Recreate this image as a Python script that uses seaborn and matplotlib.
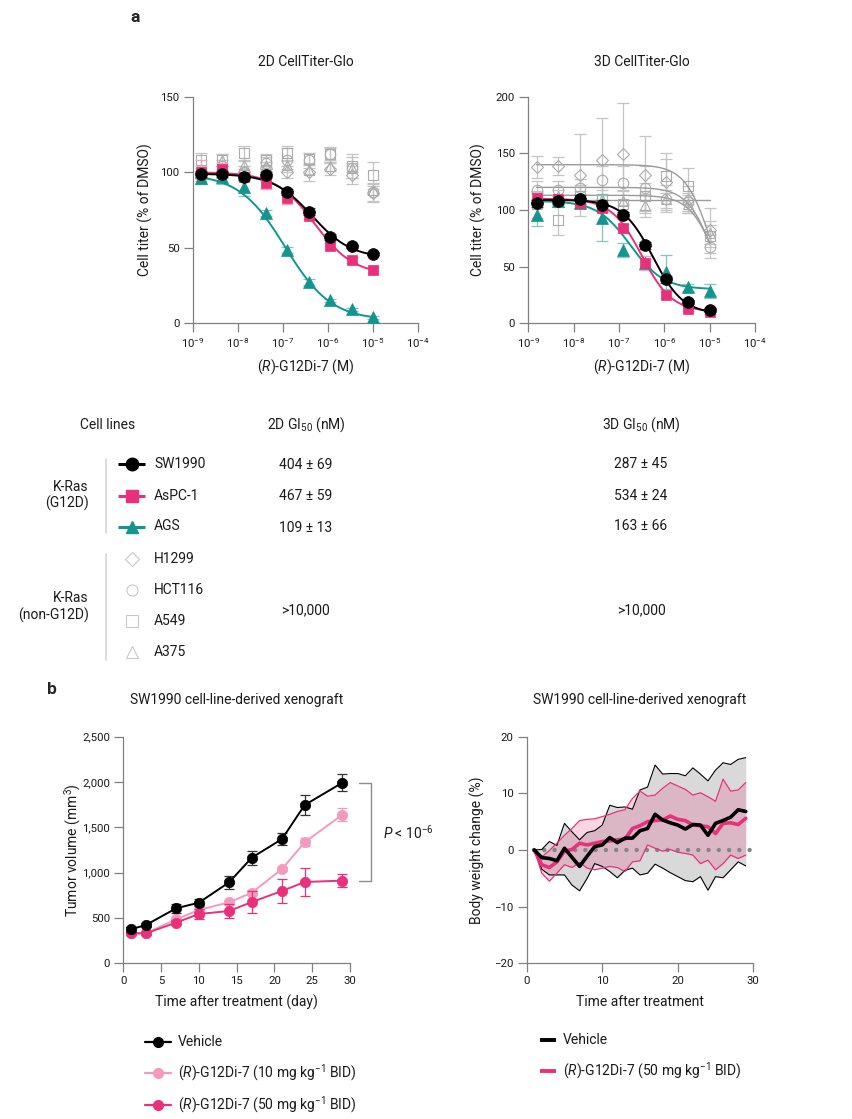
import numpy as np
import pandas as pd
import matplotlib
matplotlib.use("Agg")
import matplotlib.pyplot as plt
from matplotlib.ticker import NullLocator, FuncFormatter
import seaborn as sns

sns.set_style("ticks")
plt.rcParams['font.family'] = ['Roboto', 'DejaVu Sans']
plt.rcParams['mathtext.fontset'] = 'custom'
plt.rcParams['mathtext.rm'] = 'Roboto'
plt.rcParams['mathtext.it'] = 'Roboto:italic'
plt.rcParams['mathtext.bf'] = 'Roboto:bold'
plt.rcParams['axes.unicode_minus'] = True

# ---------------- data: panel a ----------------
conc = [1.52e-9, 4.57e-9, 1.37e-8, 4.12e-8, 1.23e-7, 3.70e-7, 1.11e-6, 3.33e-6, 1.0e-5]

cell_lines = ['SW1990', 'AsPC-1', 'AGS', 'H1299', 'HCT116', 'A549', 'A375']
g12d_lines = ['SW1990', 'AsPC-1', 'AGS']
grey_lines = ['H1299', 'HCT116', 'A549', 'A375']

# 2D CellTiter-Glo (% of DMSO)
ctg2d_sw1990 = [99, 99, 97, 98, 87, 74, 57, 51, 46]
ctg2d_aspc1 = [100, 102, 97, 93, 83, 71, 51, 42, 35]
ctg2d_ags = [96, 97, 90, 73, 48.5, 27.6, 15.4, 9.3, 4]
ctg2d_h1299 = [96, 100, 100, 103, 100, 100, 102, 98, 86]
ctg2d_hct116 = [100, 104, 100, 106, 108, 108, 112, 103, 87]
ctg2d_a549 = [108, 108, 112.5, 108, 112.5, 109, 112, 104, 98]
ctg2d_a375 = [97, 108, 105, 104, 105, 101.5, 104, 103, 88]
err2d_sw1990 = [2, 2, 2, 2, 2, 2, 2, 1, 1]
err2d_aspc1 = [8, 4, 3, 4, 4, 2, 2, 2, 2]
err2d_ags = [4, 5, 6, 2, 2, 2, 1, 1, 1]
err2d_h1299 = [4, 4, 4, 4, 4, 6, 4, 6, 6]
err2d_hct116 = [4, 4, 4, 4, 8, 5, 5, 7, 6]
err2d_a549 = [5, 4, 5, 4, 5, 4, 4, 8, 9]
err2d_a375 = [3, 4, 3, 3, 3, 3, 3, 3, 3]

# 3D CellTiter-Glo (% of DMSO)
ctg3d_sw1990 = [106, 108, 109.4, 104.4, 95.6, 69, 39, 19, 11.7]
ctg3d_aspc1 = [111, 109.4, 106.5, 101.5, 83.8, 53, 25, 13, 10.3]
ctg3d_ags = [96, 108, 106, 93, 64.7, 53, 45.5, 31.8, 28.5]
ctg3d_h1299 = [138, 138.8, 131, 144, 149.4, 131, 125, 109, 82]
ctg3d_hct116 = [117.6, 117.6, 119, 126.5, 123.5, 119, 110, 107, 67.6]
ctg3d_a549 = [105, 91, 112, 110, 105, 112, 130, 121, 77]
ctg3d_a375 = [110, 112, 111, 110, 108, 104, 110, 105, 80]
err3d_sw1990 = [3, 3, 4, 4, 3, 3, 3, 2, 2]
err3d_aspc1 = [4, 3, 3, 3, 4, 6, 3, 2, 2]
err3d_ags = [10, 5, 4, 20, 6, 6, 15, 3, 6]
err3d_h1299 = [10, 8, 36, 37, 45, 34, 25, 12, 20]
err3d_hct116 = [8, 8, 8, 12, 15, 20, 12, 8, 10]
err3d_a549 = [12, 13, 10, 10, 12, 12, 15, 16, 10]
err3d_a375 = [6, 6, 6, 8, 10, 10, 8, 8, 10]

# fitted 4-parameter logistic curves: top, bottom, logGI50, hill
fit2d = {'SW1990': (99, 43, -6.35, 1.0), 'AsPC-1': (100, 32, -6.3, 1.0),
         'AGS': (99, 2, -6.95, 0.85)}
fit3d = {'SW1990': (109, 8, -6.25, 1.3), 'AsPC-1': (110, 10, -6.5, 1.3),
         'AGS': (108, 30, -6.75, 1.2), 'H1299': (140, 0, -4.95, 1.5),
         'HCT116': (120, 0, -4.9, 1.5), 'A549': (109, 109, -5.0, 1.0),
         'A375': (113, 0, -4.85, 1.5)}

gi50_2d = ['404 ± 69', '467 ± 59', '109 ± 13']
gi50_3d = ['287 ± 45', '534 ± 24', '163 ± 66']
gi50_other = '>10,000'

# ---------------- data: panel b ----------------
tumor_days = [1, 3, 7, 10, 14, 17, 21, 24, 29]
tumor_vehicle = [375, 423, 607, 669, 893, 1165, 1371, 1746, 1993]
tumor_vehicle_err = [30, 25, 50, 35, 75, 75, 70, 110, 90]
tumor_10mg = [331, 331, 485, 588, 673, 779, 1040, 1335, 1640]
tumor_10mg_err = [20, 20, 20, 25, 25, 30, 25, 45, 75]
tumor_50mg = [331, 331, 449, 544, 577, 676, 798, 897, 912]
tumor_50mg_err = [20, 15, 25, 55, 75, 120, 135, 155, 75]

bw_days = list(range(1, 30))
bw_vehicle = [0, -1.35, -1.5, -1.9, 0.3, -1.3, -2.9, -1.1, 0.6, 0.9, 2.2, 1.3, 2.1, 2.1, 3.4,
              3.8, 6.3, 5.3, 4.8, 4.4, 3.7, 4.5, 4.4, 2.6, 4.7, 5.2, 5.8, 7.1, 6.8]
bw_vehicle_hi = [0, 0.1, 1.5, 0.8, 4.7, 3.2, 1.8, 3.1, 3.4, 4.4, 7.9, 7.5, 7.6, 7.2, 10.6,
                 11.1, 15, 13.4, 13.5, 13.5, 13.1, 14.5, 13.4, 12.2, 14.1, 15.4, 15.1, 16, 16.3]
bw_vehicle_lo = [0, -3.4, -4.4, -4.4, -4.4, -6.2, -7.2, -5, -2.4, -2.9, -3.8, -4.9, -3.6, -3.2, -4.4,
                 -4.1, -2.5, -3.2, -4, -4.7, -5.4, -5.6, -4.7, -7.1, -4.7, -4.9, -3.5, -2.1, -2.8]
bw_50mg = [0, -2.6, -3.1, -2.1, -0.2, 0.1, 1.2, 0.9, 1.2, 1.5, 1.6, 1.8, 1.9, 3.8, 4.3,
           5, 5.2, 5.3, 6, 5.4, 5.2, 4.4, 4.3, 4.1, 2.9, 4.7, 4.8, 4.5, 5.6]
bw_50mg_hi = [0, -1.2, -0.1, 1.2, 2.6, 3.8, 5.2, 5.4, 5.5, 5.9, 6.3, 6.8, 7.1, 9.1, 10.4,
              9.5, 9.7, 10.9, 11.9, 11.3, 10.7, 9.7, 10.1, 9.4, 8.6, 12.5, 10.4, 10.6, 11.9]
bw_50mg_lo = [0, -4.1, -5.5, -4.1, -2.6, -3.1, -2.2, -3.2, -3.5, -3.2, -2.9, -3.1, -3.8, -2.1, -1.9,
              0.9, 0.3, -0.2, 0.1, -0.4, -0.6, -0.9, -2.4, -1.8, -3.5, -2.4, -0.9, -1.5, -0.9]

# ---------------- styles ----------------
BLACK = '#000000'
PINK = '#e8317a'
LPINK = '#f39abd'
TEAL = '#13958f'
GREY = '#ababab'
SPINE = '#808080'
TXT = '#1a1a1a'

style = {
    'SW1990': dict(color=BLACK, marker='o', ms=8.5, ecol='#555555'),
    'AsPC-1': dict(color=PINK, marker='s', ms=7.5, ecol='#f5a3c3'),
    'AGS': dict(color=TEAL, marker='^', ms=8, ecol='#7fc6c2'),
    'H1299': dict(color=GREY, marker='D', ms=6.2),
    'HCT116': dict(color=GREY, marker='o', ms=7.5),
    'A549': dict(color=GREY, marker='s', ms=7.5),
    'A375': dict(color=GREY, marker='^', ms=7.5),
}

W, H = 852, 1119
fig = plt.figure(figsize=(W / 100, H / 100), dpi=100)
fs = 10


def rect(x0, y0, x1, y1):
    return [x0 / W, 1 - y1 / H, (x1 - x0) / W, (y1 - y0) / H]


def style_axes(ax):
    for s in ['top', 'right']:
        ax.spines[s].set_visible(False)
    for s in ['left', 'bottom']:
        ax.spines[s].set_color(SPINE)
        ax.spines[s].set_linewidth(0.9)
    ax.tick_params(direction='out', length=6.5, width=0.9, color=SPINE,
                   labelsize=8.2, labelcolor=TXT, pad=3)


def logistic(x, top, bottom, logc, hill):
    return bottom + (top - bottom) / (1 + 10 ** ((np.log10(x) - logc) * hill))


def dose_panel(ax, vals, errs, fits, ymax):
    xs = np.logspace(np.log10(conc[0]), np.log10(conc[-1]), 200)
    order = ['A549', 'HCT116', 'H1299', 'A375', 'AGS', 'AsPC-1', 'SW1990']
    for name in order:
        st = style[name]
        grey = name in grey_lines
        if name in fits:
            sns.lineplot(x=xs, y=logistic(xs, *fits[name]), ax=ax,
                         color=('#9a9a9a' if grey else st['color']),
                         lw=(1.0 if grey else 1.4), zorder=2 if grey else 4)
        ax.errorbar(conc, vals[name], yerr=errs[name], fmt='none',
                    ecolor=('#c4c4c4' if grey else st['ecol']),
                    elinewidth=0.9, capsize=4, capthick=0.9, zorder=1 if grey else 3)
        if grey:
            ax.plot(conc, vals[name], ls='none', marker=st['marker'], ms=st['ms'],
                    mfc='none', mec=st['color'], mew=0.8, zorder=2, clip_on=False)
        else:
            ax.plot(conc, vals[name], ls='none', marker=st['marker'], ms=st['ms'],
                    mfc=st['color'], mec=st['color'], mew=0.5, zorder=5, clip_on=False)
    ax.set_xscale('log')
    ax.set_xlim(1e-9, 1e-4)
    ax.set_ylim(0, ymax)
    ax.set_xticks([1e-9, 1e-8, 1e-7, 1e-6, 1e-5, 1e-4])
    ax.xaxis.set_minor_locator(NullLocator())
    ax.xaxis.set_major_formatter(FuncFormatter(
        lambda v, p: r'$\mathregular{10^{%d}}$' % round(np.log10(v))))
    ax.set_yticks(np.arange(0, ymax + 1, 50))
    ax.set_xlabel('')
    ax.set_ylabel('')
    style_axes(ax)


vals2d = {'SW1990': ctg2d_sw1990, 'AsPC-1': ctg2d_aspc1, 'AGS': ctg2d_ags,
          'H1299': ctg2d_h1299, 'HCT116': ctg2d_hct116, 'A549': ctg2d_a549, 'A375': ctg2d_a375}
errs2d = {'SW1990': err2d_sw1990, 'AsPC-1': err2d_aspc1, 'AGS': err2d_ags,
          'H1299': err2d_h1299, 'HCT116': err2d_hct116, 'A549': err2d_a549, 'A375': err2d_a375}
vals3d = {'SW1990': ctg3d_sw1990, 'AsPC-1': ctg3d_aspc1, 'AGS': ctg3d_ags,
          'H1299': ctg3d_h1299, 'HCT116': ctg3d_hct116, 'A549': ctg3d_a549, 'A375': ctg3d_a375}
errs3d = {'SW1990': err3d_sw1990, 'AsPC-1': err3d_aspc1, 'AGS': err3d_ags,
          'H1299': err3d_h1299, 'HCT116': err3d_hct116, 'A549': err3d_a549, 'A375': err3d_a375}

# overlay axes in pixel coordinates for free text / table
axt = fig.add_axes([0, 0, 1, 1])
axt.set_xlim(0, W)
axt.set_ylim(H, 0)
axt.axis('off')

ax2 = fig.add_axes(rect(192.7, 96.7, 418.3, 323.3))
dose_panel(ax2, vals2d, errs2d, fit2d, 150)
ax3 = fig.add_axes(rect(528.3, 96.7, 755, 323.3))
dose_panel(ax3, vals3d, errs3d, fit3d, 200)

axt.text(135, 18, 'a', fontsize=12.5, fontweight='bold', ha='center', va='center')
axt.text(305.5, 62, '2D CellTiter-Glo', fontsize=fs, ha='center', va='center', color=TXT)
axt.text(641.6, 62, '3D CellTiter-Glo', fontsize=fs, ha='center', va='center', color=TXT)
for xc in (305.5, 641.6):
    axt.text(xc, 367, r'($\mathit{R}$)-G12Di-7 (M)', fontsize=fs, ha='center', va='center', color=TXT)
for xc in (145, 478):
    axt.text(xc, 210, 'Cell titer (% of DMSO)', fontsize=fs, ha='center', va='center',
             rotation=90, color=TXT)

# ---------------- table ----------------
axt.text(108, 425, 'Cell lines', fontsize=fs, ha='center', va='center', color=TXT)
axt.text(306, 425, r'2D GI$_{\mathregular{50}}$ (nM)', fontsize=fs, ha='center', va='center', color=TXT)
axt.text(641, 425, r'3D GI$_{\mathregular{50}}$ (nM)', fontsize=fs, ha='center', va='center', color=TXT)
row_y = [464, 495.5, 526.5, 559, 590, 621, 652]
for name, yy in zip(cell_lines, row_y):
    st = style[name]
    if name in g12d_lines:
        axt.plot([118, 145], [yy, yy], color=st['color'], lw=2.2, solid_capstyle='butt')
        axt.plot([131.5], [yy], marker=st['marker'], ms=st['ms'] + 0.5, color=st['color'], ls='none')
    else:
        axt.plot([131.5], [yy], marker=st['marker'], ms=st['ms'] + 0.5, mfc='none',
                 mec='#c8c8c8', mew=0.8, ls='none')
    axt.text(154, yy, name, fontsize=fs, ha='left', va='center', color=TXT)
for txt, yy in zip(gi50_2d, row_y[:3]):
    axt.text(306, yy + 1, txt, fontsize=fs, ha='center', va='center', color=TXT)
for txt, yy in zip(gi50_3d, row_y[:3]):
    axt.text(641, yy, txt, fontsize=fs, ha='center', va='center', color=TXT)
axt.text(306, 610, gi50_other, fontsize=fs, ha='center', va='center', color=TXT)
axt.text(641, 610, gi50_other, fontsize=fs, ha='center', va='center', color=TXT)
axt.plot([106, 106], [459, 533], color='#d6d6d6', lw=1.2)
axt.plot([106, 106], [554, 660], color='#d6d6d6', lw=1.2)
axt.text(89, 495.5, 'K-Ras\n(G12D)', fontsize=fs, ha='right', va='center',
         color=TXT, linespacing=1.2)
axt.text(89, 607, 'K-Ras\n(non-G12D)', fontsize=fs, ha='right', va='center',
         color=TXT, linespacing=1.2)

# ---------------- panel b: tumor volume ----------------
axt.text(52, 690, 'b', fontsize=12.5, fontweight='bold', ha='center', va='center')
axt.text(237, 700, 'SW1990 cell-line-derived xenograft', fontsize=fs, ha='center', va='center', color=TXT)
axt.text(640, 700, 'SW1990 cell-line-derived xenograft', fontsize=fs, ha='center', va='center', color=TXT)

axv = fig.add_axes(rect(123.3, 736.7, 350, 963.3))
tum = pd.DataFrame({'day': tumor_days, 'vehicle': tumor_vehicle, 'mg10': tumor_10mg, 'mg50': tumor_50mg})
for col, err, c, z in [('mg10', tumor_10mg_err, LPINK, 3), ('mg50', tumor_50mg_err, PINK, 4),
                       ('vehicle', tumor_vehicle_err, BLACK, 5)]:
    axv.errorbar(tum['day'], tum[col], yerr=err, fmt='none', ecolor=c if c != BLACK else '#333333',
                 elinewidth=0.9, capsize=3.5, capthick=0.9, zorder=z)
    sns.lineplot(data=tum, x='day', y=col, ax=axv, color=c, lw=1.4, marker='o', ms=7.5,
                 mec=c, mew=0.5, zorder=z, clip_on=False)
axv.set_xlim(0, 30)
axv.set_ylim(0, 2500)
axv.set_xticks([0, 5, 10, 15, 20, 25, 30])
axv.set_yticks([0, 500, 1000, 1500, 2000, 2500])
axv.yaxis.set_major_formatter(FuncFormatter(lambda v, p: f'{int(v):,}'))
axv.set_xlabel('')
axv.set_ylabel('')
style_axes(axv)
# significance bracket
bx0, bx1 = 31.2, 32.8
axv.plot([bx0, bx1, bx1, bx0], [tumor_vehicle[-1], tumor_vehicle[-1], tumor_50mg[-1], tumor_50mg[-1]],
         color='#8c8c8c', lw=1.0, clip_on=False)
axt.text(383, 833, r'$\mathit{P}$ < 10$^{\mathregular{-6}}$', fontsize=fs, ha='left', va='center', color=TXT)
axt.text(73, 850, r'Tumor volume (mm$^{\mathregular{3}}$)', fontsize=fs, ha='center', va='center',
         rotation=90, color=TXT)
axt.text(236.7, 1002, 'Time after treatment (day)', fontsize=fs, ha='center', va='center', color=TXT)

# ---------------- panel b: body weight ----------------
axb = fig.add_axes(rect(526.7, 736.7, 753.3, 963.3))
bw = pd.DataFrame({'day': bw_days, 'veh': bw_vehicle, 'veh_hi': bw_vehicle_hi, 'veh_lo': bw_vehicle_lo,
                   'mg50': bw_50mg, 'mg50_hi': bw_50mg_hi, 'mg50_lo': bw_50mg_lo})
axb.fill_between(bw['day'], bw['veh_lo'], bw['veh_hi'], color='#d9d9d9', lw=0, zorder=1)
axb.fill_between(bw['day'], bw['mg50_lo'], bw['mg50_hi'], color=PINK, alpha=0.2, lw=0, zorder=2)
axb.plot([1, 30], [0, 0], color='#858585', lw=3.2, ls=(0, (0.01, 2.3)),
         dash_capstyle='round', zorder=3, clip_on=False)
for col in ['veh_hi', 'veh_lo']:
    sns.lineplot(data=bw, x='day', y=col, ax=axb, color=BLACK, lw=0.8, zorder=4)
for col in ['mg50_hi', 'mg50_lo']:
    sns.lineplot(data=bw, x='day', y=col, ax=axb, color=PINK, lw=0.9, zorder=4)
sns.lineplot(data=bw, x='day', y='mg50', ax=axb, color=PINK, lw=2.6, zorder=5)
sns.lineplot(data=bw, x='day', y='veh', ax=axb, color=BLACK, lw=2.6, zorder=6)
axb.set_xlim(0, 30)
axb.set_ylim(-20, 20)
axb.set_xticks([0, 10, 20, 30])
axb.set_yticks([-20, -10, 0, 10, 20])
axb.set_xlabel('')
axb.set_ylabel('')
style_axes(axb)
axt.text(477, 850, 'Body weight change (%)', fontsize=fs, ha='center', va='center',
         rotation=90, color=TXT)
axt.text(640, 1002, 'Time after treatment', fontsize=fs, ha='center', va='center', color=TXT)

# ---------------- legends ----------------
leg_left = ['Vehicle', r'($\mathit{R}$)-G12Di-7 (10 mg kg$^{\mathregular{-1}}$ BID)',
            r'($\mathit{R}$)-G12Di-7 (50 mg kg$^{\mathregular{-1}}$ BID)']
leg_left_col = [BLACK, LPINK, PINK]
for lab, c, yy in zip(leg_left, leg_left_col, [1041.5, 1073, 1105]):
    axt.plot([145, 171], [yy, yy], color=c, lw=1.6)
    axt.plot([158], [yy], marker='o', ms=7, color=c, ls='none')
    axt.text(178, yy, lab, fontsize=fs, ha='left', va='center', color=TXT)
leg_right = ['Vehicle', r'($\mathit{R}$)-G12Di-7 (50 mg kg$^{\mathregular{-1}}$ BID)']
for lab, c, yy in zip(leg_right, [BLACK, PINK], [1039.5, 1071]):
    axt.plot([540, 556], [yy, yy], color=c, lw=2.8, solid_capstyle='butt')
    axt.text(563, yy, lab, fontsize=fs, ha='left', va='center', color=TXT)

fig.savefig('out.png', dpi=100)
